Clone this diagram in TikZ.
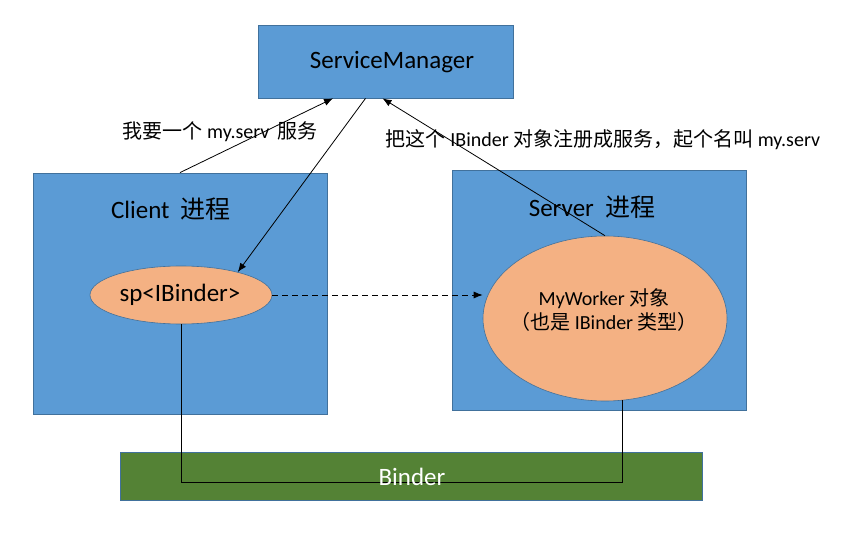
\documentclass[tikz,border=0pt]{standalone}
\usepackage{fontspec}
\setmainfont{Carlito}
\newfontfamily\cjk{Noto Sans CJK SC}
\usetikzlibrary{arrows.meta,shapes.geometric}

\definecolor{procblue}{HTML}{5B9BD5}
\definecolor{edgeblue}{HTML}{41719C}
\definecolor{objorange}{HTML}{F4B183}
\definecolor{bindgreen}{HTML}{548235}

\newcommand{\bigtext}{\fontsize{25}{29}\selectfont}
\newcommand{\smalltext}{\fontsize{20}{24}\selectfont}

\begin{document}
\begin{tikzpicture}[x=1pt,y=-1pt,>={Latex[length=9pt,width=7pt]},line width=0.8pt]
  \tikzstyle{proc}=[draw=edgeblue,fill=procblue,inner sep=0pt]
  \tikzstyle{obj}=[ellipse,draw=edgeblue,fill=objorange,inner sep=0pt,line width=0.6pt]
  \tikzstyle{big}=[font=\bigtext,inner sep=0pt]
  \tikzstyle{small}=[font=\smalltext,inner sep=0pt]

  \useasboundingbox (0,0) rectangle (843,537);

  \node[proc,minimum width=255pt,minimum height=73pt] (sm)     at (385.5,61.5) {};
  \node[proc,minimum width=294pt,minimum height=241pt] (client) at (180,293.5) {};
  \node[proc,minimum width=294pt,minimum height=240pt] (server) at (599,290) {};
  \node[draw=edgeblue,fill=bindgreen,inner sep=0pt,
        minimum width=582pt,minimum height=48pt]      (binder) at (411,476) {};

  \node[big] (smtext)     at (392,62)  {ServiceManager};
  \node[big] (clienttext) at (171,209) {Client\ \ {\cjk 进程}};
  \node[big] (servertext) at (592,207) {Server\ \ {\cjk 进程}};

  \node[obj,minimum width=182pt,minimum height=58pt]  (sp)     at (181,295)   {};
  \node[big]                                         (sptext) at (180,295)   {sp<IBinder>};
  \node[obj,minimum width=244pt,minimum height=165pt] (worker) at (605,318.5) {};
  \node[small,align=center] (workertext) at (604,310)
        {MyWorker {\cjk 对象}\\{\cjk （也是} IBinder {\cjk 类型）}};

  \node[small] (asklabel) at (220,132) {{\cjk 我要一个} my.serv\, {\cjk 服务}};
  \node[small] (reglabel) at (603,140)
        {{\cjk 把这个} IBinder {\cjk 对象注册成服务，起个名叫} my.serv};

  \path[->] (client.north)             edge ([xshift=-52.5pt]sm.south)
            ([xshift=-20pt]sm.south)   edge (sp.22)
            (worker.north)             edge ([xshift=-3pt]sm.south);
  \draw[->,dash pattern=on 6pt off 4pt] (sp.east) -- (sp.east -| worker.west);
  \draw (sp.south) |- ([yshift=-6pt]binder.center -| worker.-78) -- (worker.-78);

  \node[font=\bigtext,text=white,inner sep=0pt] (bindtext) at (412,477) {Binder};
\end{tikzpicture}
\end{document}
